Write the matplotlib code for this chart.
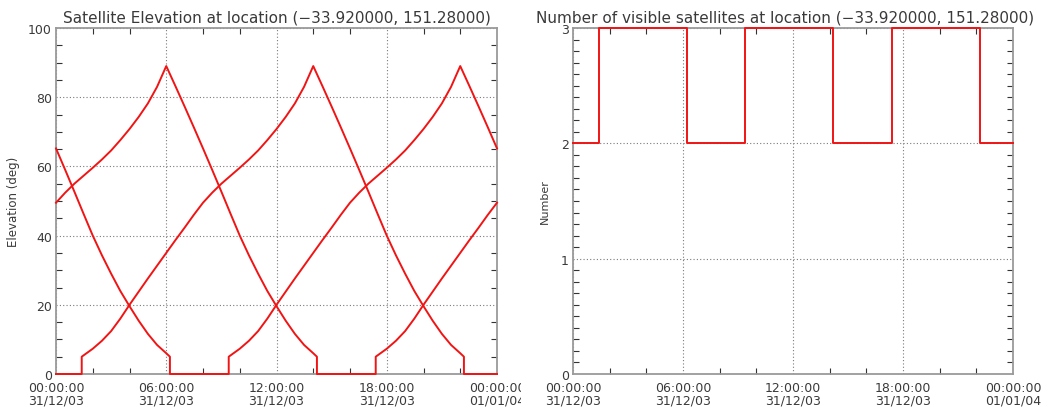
import matplotlib
matplotlib.use('Agg')
import matplotlib.pyplot as plt
from matplotlib.ticker import FixedLocator, MultipleLocator
from matplotlib.transforms import Bbox, TransformedBbox

# hours since 00:00:00 31/12/03, elevation in degrees (0 when below mask)
sat1_t = [0, 0.5, 1, 1.5, 2, 2.5, 3, 3.5, 4, 4.5, 5, 5.5, 6, 6.5, 7, 7.5, 8, 8.5, 9, 9.5,
          10, 10.5, 11, 11.5, 12, 12.5, 13, 13.5, 14, 14.2, 14.2, 17.4, 17.4,
          18, 18.5, 19, 19.5, 20, 20.5, 21, 21.5, 22, 22.5, 23, 23.5, 24]
sat1_el = [49.5, 52.4, 55, 57.3, 59.6, 62, 64.6, 67.6, 70.8, 74.3, 78.2, 83, 89, 83.2, 77.3,
           71.3, 65.2, 59, 52.7, 46.3, 40, 34.3, 29, 24, 19.6, 15.4, 11.6, 8.4, 6, 5, 0, 0, 5,
           7.3, 9.6, 12.4, 16, 20, 23.8, 27.6, 31.3, 35, 38.7, 42.3, 46, 49.5]

sat2_t = [0, 1.4, 1.4, 2, 2.5, 3, 3.5, 4, 4.5, 5, 5.5, 6, 6.5, 7, 7.5, 8, 8.5, 9, 9.5, 10,
          10.5, 11, 11.5, 12, 12.5, 13, 13.5, 14, 14.5, 15, 15.5, 16, 16.5, 17, 17.5, 18,
          18.5, 19, 19.5, 20, 20.5, 21, 21.5, 22, 22.2, 22.2, 24]
sat2_el = [0, 0, 5, 7.3, 9.6, 12.4, 16, 20, 23.8, 27.6, 31.3, 35, 38.7, 42.3, 46, 49.5, 52.4,
           55, 57.3, 59.6, 62, 64.6, 67.6, 70.8, 74.3, 78.2, 83, 89, 83.2, 77.3, 71.3, 65.2,
           59, 52.7, 46.3, 40, 34.3, 29, 24, 19.6, 15.4, 11.6, 8.4, 6, 5, 0, 0]

sat3_t = [0, 0.5, 1, 1.5, 2, 2.5, 3, 3.5, 4, 4.5, 5, 5.5, 6, 6.2, 6.2, 9.4, 9.4, 10, 10.5,
          11, 11.5, 12, 12.5, 13, 13.5, 14, 14.5, 15, 15.5, 16, 16.5, 17, 17.5, 18, 18.5,
          19, 19.5, 20, 20.5, 21, 21.5, 22, 22.5, 23, 23.5, 24]
sat3_el = [65.2, 59, 52.7, 46.3, 40, 34.3, 29, 24, 19.6, 15.4, 11.6, 8.4, 6, 5, 0, 0, 5, 7.3,
           9.6, 12.4, 16, 20, 23.8, 27.6, 31.3, 35, 38.7, 42.3, 46, 49.5, 52.4, 55, 57.3,
           59.6, 62, 64.6, 67.6, 70.8, 74.3, 78.2, 83, 89, 83.2, 77.3, 71.3, 65.2]

vis_t = [0, 1.4, 6.2, 9.4, 14.2, 17.4, 22.2, 24]
vis_n = [2, 3, 2, 3, 2, 3, 2, 2]

tick_hours = [0, 6, 12, 18, 24]
tick_labels = ['00:00:00\n31/12/03', '06:00:00\n31/12/03', '12:00:00\n31/12/03',
               '18:00:00\n31/12/03', '00:00:00\n01/01/04']

TITLE_LEFT = 'Satellite Elevation at location (\u221233.920000, 151.28000)'
TITLE_RIGHT = 'Number of visible satellites at location (\u221233.920000, 151.28000)'

RED = '#f01414'
TXT = '#3a3a3a'


def style_axes(ax):
    ax.set_xlim(0, 24)
    ax.xaxis.set_major_locator(FixedLocator(tick_hours))
    ax.xaxis.set_minor_locator(MultipleLocator(2))
    ax.set_xticklabels(tick_labels, linespacing=0.95)
    ax.tick_params(which='major', length=0, labelsize=9, labelcolor=TXT)
    ax.tick_params(axis='x', which='major', pad=5)
    ax.tick_params(axis='y', which='major', pad=3)
    ax.tick_params(which='minor', direction='in', length=4, width=0.8,
                   color='#333333', top=True, right=True)
    ax.grid(True, which='major', linestyle=(0, (1, 2)), color='#7a7a7a', linewidth=0.8)
    for s in ax.spines.values():
        s.set_color('#9a9a9a')
        s.set_linewidth(1.3)


fig = plt.figure(figsize=(10.53, 4.10), dpi=100)
ax1 = fig.add_axes([56 / 1053, 35 / 410, 441 / 1053, 346 / 410])
ax2 = fig.add_axes([573 / 1053, 35 / 410, 440 / 1053, 346 / 410])

for t, el in [(sat1_t, sat1_el), (sat2_t, sat2_el), (sat3_t, sat3_el)]:
    ax1.plot(t, el, color=RED, linewidth=1.4, clip_on=False, zorder=3)
ax1.set_ylim(0, 100)
ax1.yaxis.set_major_locator(MultipleLocator(20))
ax1.yaxis.set_minor_locator(MultipleLocator(5))
style_axes(ax1)
ax1.set_ylabel('Elevation (deg)', fontsize=8.5, color=TXT, labelpad=6)
ax1.set_title(TITLE_LEFT, fontsize=11, color=TXT, pad=5)

ax2.step(vis_t, vis_n, where='post', color=RED, linewidth=1.4, clip_on=False, zorder=3)
ax2.set_ylim(0, 3)
ax2.yaxis.set_major_locator(MultipleLocator(1))
ax2.yaxis.set_minor_locator(MultipleLocator(0.1))
style_axes(ax2)
ax2.set_ylabel('Number', fontsize=8, color=TXT, labelpad=8)
ax2.set_title(TITLE_RIGHT, fontsize=11, color=TXT, pad=5, x=0.482)

# the left panel was cut off at its right edge in the original
clip = TransformedBbox(Bbox([[0, 0], [521 / 1053, 1]]), fig.transFigure)
for lbl in ax1.get_xticklabels():
    lbl.set_clip_box(clip)
    lbl.set_clip_on(True)

fig.savefig('out.png', dpi=100)
